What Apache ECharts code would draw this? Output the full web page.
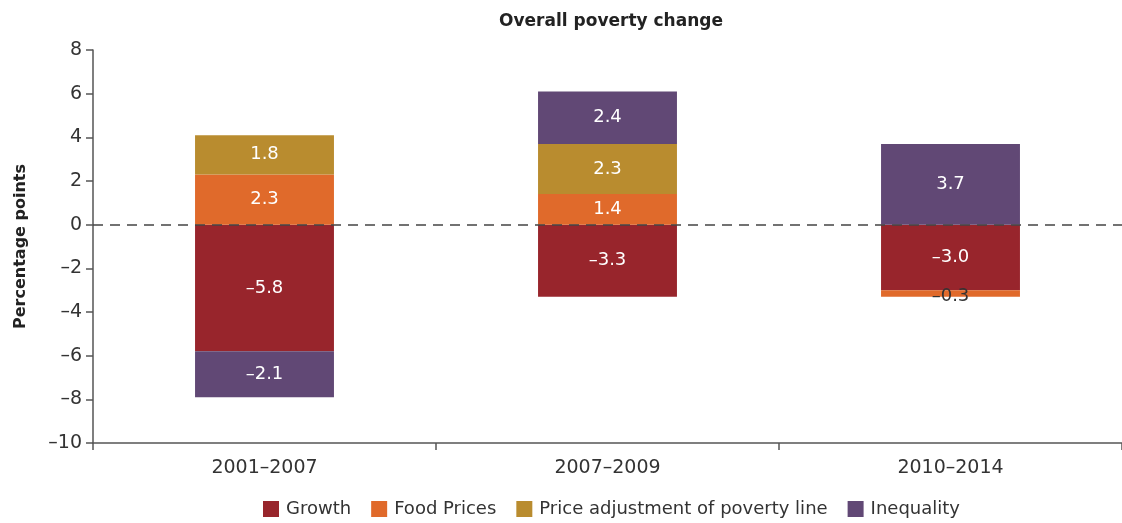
<!DOCTYPE html>
<html>
<head>
<meta charset="utf-8">
<script src="https://cdn.jsdelivr.net/npm/echarts@6/dist/echarts.min.js"></script>
<style>
  html, body { margin: 0; padding: 0; background: #fff; }
  #chart { width: 1122px; height: 523px; }
</style>
</head>
<body>
<div id="chart"></div>
<script>
// periods on the x axis
const periods = ['2001–2007', '2007–2009', '2010–2014'];

// contributions, percentage points
const growth = [-5.8, -3.3, -3.0];
const foodPrices = [2.3, 1.4, -0.3];
const priceAdjustment = [1.8, 2.3, null];
const inequality = [-2.1, 2.4, 3.7];

const yTicks = { min: -10, max: 8, step: 2 };

const FONT = 'DejaVu Sans';
const dash = v => String(v).replace('-', '–');

// small slices get a dark label that sits just below the bar
function withLabels(values) {
  return values.map(v => {
    if (v === null) return null;
    if (Math.abs(v) < 1) {
      return { value: v, label: { color: '#333', position: 'inside', offset: [0, 3] } };
    }
    return v;
  });
}

function bar(name, values, color) {
  return {
    name: name,
    type: 'bar',
    stack: 'total',
    barWidth: '40.5%',
    data: withLabels(values),
    itemStyle: { color: color },
    label: {
      show: true,
      position: 'inside',
      color: '#fff',
      fontFamily: FONT,
      fontSize: 18,
      formatter: p => dash(p.value.toFixed(1))
    }
  };
}

const series = [
  bar('Growth', growth, '#98252C'),
  bar('Food Prices', foodPrices, '#E06A2B'),
  bar('Price adjustment of poverty line', priceAdjustment, '#B98C2F'),
  bar('Inequality', inequality, '#614875')
];

series[0].markLine = {
  silent: true,
  symbol: 'none',
  label: { show: false },
  lineStyle: { color: '#444', type: [10, 7], width: 1.5, opacity: 1 },
  data: [{ yAxis: 0 }]
};

const chart = echarts.init(document.getElementById('chart'));
chart.setOption({
  animation: false,
  title: {
    text: 'Overall poverty change',
    left: 606,
    textAlign: 'center',
    top: 8,
    textStyle: { fontFamily: FONT, fontSize: 17, fontWeight: 'bold', color: '#222' }
  },
  legend: {
    bottom: 0,
    left: 258,
    itemWidth: 16,
    itemHeight: 16,
    itemGap: 20,
    icon: 'rect',
    textStyle: { fontFamily: FONT, fontSize: 18, color: '#333', padding: [0, 0, 0, 2] }
  },
  grid: { left: 93, right: -1, top: 50, bottom: 80 },
  xAxis: {
    type: 'category',
    data: periods,
    axisLine: { onZero: false, lineStyle: { color: '#555', width: 1.5 } },
    axisTick: { show: true, length: 7, lineStyle: { color: '#555', width: 1.5 } },
    axisLabel: { fontFamily: FONT, fontSize: 19, color: '#333', margin: 16 }
  },
  yAxis: {
    type: 'value',
    min: yTicks.min,
    max: yTicks.max,
    interval: yTicks.step,
    name: 'Percentage points',
    nameLocation: 'middle',
    nameGap: 64,
    nameRotate: 90,
    nameTextStyle: { fontFamily: FONT, fontSize: 16, fontWeight: 'bold', color: '#222' },
    splitLine: { show: false },
    axisLine: { show: true, lineStyle: { color: '#555', width: 1.5 } },
    axisTick: { show: true, length: 7, lineStyle: { color: '#555', width: 1.5 } },
    axisLabel: { fontFamily: FONT, fontSize: 19, color: '#333', margin: 11, formatter: dash }
  },
  series: series
});
</script>
</body>
</html>
